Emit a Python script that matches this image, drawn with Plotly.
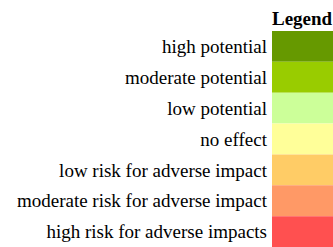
import plotly.graph_objects as go

categories = ["high potential", "moderate potential", "low potential", "no effect",
              "low risk for adverse impact", "moderate risk for adverse impact",
              "high risk for adverse impacts"]
values = [1, 1, 1, 1, 1, 1, 1]
colors = ["#669900", "#99cc00", "#ccff99", "#ffff99", "#ffcc66", "#ff9966", "#ff5050"]
title = "Legend"

W, H = 333, 247
fig = go.Figure(go.Bar(
    x=values, y=categories, orientation="h",
    marker=dict(color=colors, line=dict(width=0)),
    width=1, hoverinfo="skip",
))
fig.update_layout(
    template="none",
    width=W, height=H, margin=dict(l=0, r=0, t=0, b=0, pad=0),
    paper_bgcolor="white", plot_bgcolor="white", showlegend=False,
    font=dict(family="Liberation Serif", color="black", size=19),
    xaxis=dict(domain=[272 / W, 1], range=[0, 1], visible=False, fixedrange=True,
               automargin=False),
    yaxis=dict(domain=[0, 216 / H], range=[6.5, -0.5], showgrid=False, zeroline=False,
               showline=False, ticks="", ticklabelstandoff=4, automargin=False,
               tickfont=dict(family="Liberation Serif", size=19, color="black")),
    annotations=[dict(text="<b>" + title + "</b>", xref="x domain", yref="paper",
                      x=0.5, y=1 - 18 / H, xanchor="center", yanchor="middle",
                      showarrow=False, font=dict(family="Liberation Serif", size=19, color="black"))],
)
fig.write_html("out.html", config={"displayModeBar": False},
               post_script="document.body.style.margin='0';document.body.style.overflow='hidden';")
